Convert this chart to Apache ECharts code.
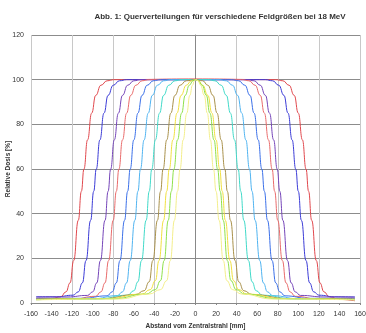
<!DOCTYPE html>
<html>
<head>
<meta charset="utf-8">
<script src="https://cdn.jsdelivr.net/npm/echarts@6/dist/echarts.min.js"></script>
<style>
  html, body { margin: 0; padding: 0; background: #fff; }
  #chart { width: 366px; height: 333px; }
</style>
</head>
<body>
<div id="chart"></div>
<script>
// x in mm from the central beam, y in % relative dose
const xTicks = { min: -160, max: 160, step: 20 }
const yTicks = { min: 0, max: 120, step: 20 }

const profile1 = [[-155,1.8],[-140,2.0],[-131,2.8],[-126,5],[-122,9],[-118.5,19],[-114,37],[-111,50],[-108.5,60],[-105,73],[-101,85],[-97,93],[-92,97.5],[-86,99.5],[-79,100],[0,100.3],[78,100],[85,99.5],[91,97.5],[96,93],[100,85],[104,73],[107.5,60],[110,50],[113,37],[117.5,19],[121,9],[125,5],[130,2.8],[140,1.6],[155,1.0]]
const profile2 = [[-155,2.8],[-135,2.8],[-119,3.5],[-114,5],[-110,9],[-106.5,19],[-102,37],[-99,50],[-96.5,60],[-93,73],[-89,85],[-85,93],[-80,97.5],[-74,99.5],[-67,100],[0,100],[68,100],[75,99.5],[81,97.5],[86,93],[90,85],[94,73],[97.5,60],[100,50],[103,37],[107.5,19],[111,9],[115,5],[120,3.5],[135,2.8],[155,2.7]]
const profile3 = [[-155,2.6],[-125,2.7],[-105,3.4],[-100,5],[-96,9],[-92.5,19],[-88,37],[-85,50],[-82.5,60],[-79,73],[-75,85],[-71,93],[-66,97.5],[-60,99.5],[-53,100],[0,100],[50,100],[57,99.5],[63,97.5],[68,93],[72,85],[76,73],[79.5,60],[82,50],[85,37],[89.5,19],[93,9],[97,5],[102,3.4],[125,2.7],[155,2.6]]
const profile4 = [[-155,1.5],[-120,1.7],[-97,3],[-92,5],[-88,9],[-84.5,19],[-80,37],[-77,50],[-74.5,60],[-71,73],[-67,85],[-63,93],[-58,97.5],[-52,99.5],[-45,100],[0,100],[45,100],[52,99.5],[58,97.5],[63,93],[67,85],[71,73],[74.5,60],[77,50],[80,37],[84.5,19],[88,9],[92,5],[97,3],[120,1.7],[155,1.5]]
const profile5 = [[-155,2],[-110,2.1],[-86,3.2],[-81,5],[-77,9],[-73.5,19],[-69,37],[-66,50],[-63.5,60],[-60,73],[-56,85],[-52,93],[-47,97.5],[-41,99.5],[-34,100],[0,100],[35,100],[42,99.5],[48,97.5],[53,93],[57,85],[61,73],[64.5,60],[67,50],[70,37],[74.5,19],[78,9],[82,5],[87,3.2],[110,2.1],[155,2]]
const profile6 = [[-155,1.6],[-100,1.9],[-76,3.3],[-71,5],[-67,9],[-63.5,19],[-59,37],[-56,50],[-53.5,60],[-50,73],[-46,85],[-42,93],[-37,97.5],[-31,99.5],[-24,100],[0,100],[23,100],[30,99.5],[36,97.5],[41,93],[45,85],[49,73],[52.5,60],[55,50],[58,37],[62.5,19],[66,9],[70,5],[75,3.3],[100,1.9],[155,1.6]]
const profile7 = [[-155,1.5],[-95,1.8],[-66,3.5],[-60,5.5],[-56,9.5],[-52.5,19],[-48,37],[-45,50],[-42.5,60],[-39,73],[-35,85],[-31,93],[-26,97.5],[-20,99.5],[-13,100],[0,100],[12,100],[19,99.5],[25,97.5],[30,93],[34,85],[38,73],[41.5,60],[44,50],[47,37],[51.5,19],[55,9.5],[59,5.5],[65,3.5],[95,1.8],[155,1.5]]
const profile8 = [[-155,1.8],[-90,2],[-58,3.8],[-50,5.5],[-45,9.5],[-41.5,19],[-37,37],[-34,50],[-31.5,60],[-28,73],[-24,85],[-20,93],[-15,97.5],[-9,99.5],[0,100],[7,99.5],[12,97.5],[17,93],[21,85],[25,73],[28.5,60],[31,50],[34,37],[38.5,19],[42,9.5],[47,5.5],[55,3.8],[90,2],[155,1.8]]
const profile9 = [[-155,1.6],[-85,2],[-52,4],[-44,6],[-39,10],[-35.5,19],[-31,37],[-28,50],[-25.5,60],[-22,73],[-18,85],[-14,93],[-9,97.5],[-4,99.5],[0,100],[3,99.5],[7,97.5],[12,93],[16,85],[20,73],[23.5,60],[26,50],[29,37],[33.5,19],[37,10],[42,6],[50,4],[85,2],[155,1.6]]
const profile10 = [[-155,1.5],[-80,1.9],[-48,4],[-39,6],[-34,10],[-30.5,19],[-26.5,37],[-23.5,50],[-21,60],[-17.5,73],[-13.5,85],[-10,93],[-6,97.5],[-2.5,99.5],[0,100],[2.5,99.5],[6.5,97.5],[10.5,93],[14,85],[18,73],[21.5,60],[24,50],[27,37],[31,19],[34.5,10],[39.5,6],[48,4],[80,1.9],[155,1.5]]
const profile11 = [[-155,1.4],[-75,1.8],[-45,4],[-34,6],[-28,10],[-24.5,19],[-20.5,37],[-17.5,50],[-15,60],[-12,73],[-8.5,85],[-5.5,93],[-3,97.5],[-1,99.5],[0.5,100],[2.5,99.5],[5,97.5],[8.5,93],[11.5,85],[14.5,73],[17.5,60],[20,50],[23,37],[27,19],[30.5,10],[36,6],[45,4],[75,1.8],[155,1.4]]

const profiles = [profile1, profile2, profile3, profile4, profile5, profile6, profile7, profile8, profile9, profile10, profile11]
const profileColors = ['#e0474c', '#3b3bd6', '#7444b8', '#e86a6a', '#3a6fe8', '#4fb3f0', '#3fd9c8', '#a8904a', '#f0e040', '#8ee04a', '#f3ee8a']

const labelStyle = { fontFamily: 'Liberation Sans', fontSize: 7, color: '#333' }

const chart = echarts.init(document.getElementById('chart'), null, { renderer: 'canvas' })

chart.setOption({
  animation: false,
  title: {
    text: 'Abb. 1: Querverteilungen für verschiedene Feldgrößen bei 18 MeV',
    left: 215,
    top: 8,
    textAlign: 'center',
    textStyle: { fontFamily: 'Liberation Sans', fontSize: 8, fontWeight: 'bold', color: '#333' }
  },
  grid: { left: 31, right: 6, top: 35, bottom: 30, outerBoundsMode: 'none' },
  xAxis: {
    type: 'value',
    min: xTicks.min,
    max: xTicks.max,
    interval: xTicks.step,
    name: 'Abstand vom Zentralstrahl [mm]',
    nameLocation: 'middle',
    nameGap: 20,
    nameMoveOverlap: false,
    nameTextStyle: { fontFamily: 'Liberation Sans', fontSize: 6.5, fontWeight: 'bold', color: '#333' },
    axisLine: { onZero: false, lineStyle: { color: '#888', width: 1 } },
    axisTick: { show: true, length: 2, lineStyle: { color: '#888' } },
    axisLabel: { ...labelStyle, margin: 8 },
    splitLine: { show: true, lineStyle: { color: ['#c8c8c8', 'rgba(0,0,0,0)'], width: 1 } }
  },
  yAxis: {
    type: 'value',
    min: yTicks.min,
    max: yTicks.max,
    interval: yTicks.step,
    name: 'Relative Dosis [%]',
    nameLocation: 'middle',
    nameGap: 19,
    nameMoveOverlap: false,
    nameTextStyle: { fontFamily: 'Liberation Sans', fontSize: 6.5, fontWeight: 'bold', color: '#333' },
    axisLine: { show: true, lineStyle: { color: '#888', width: 1 } },
    axisTick: { show: true, length: 2, lineStyle: { color: '#888' } },
    axisLabel: { ...labelStyle, margin: 7 },
    splitLine: { show: true, lineStyle: { color: '#8c8c8c', width: 1 } }
  },
  series: profiles.map((data, i) => ({
    type: 'line',
    data: data,
    smooth: true,
    smoothMonotone: 'x',
    showSymbol: false,
    lineStyle: { color: profileColors[i], width: 1 },
    itemStyle: { color: profileColors[i] }
  }))
})
</script>
</body>
</html>
